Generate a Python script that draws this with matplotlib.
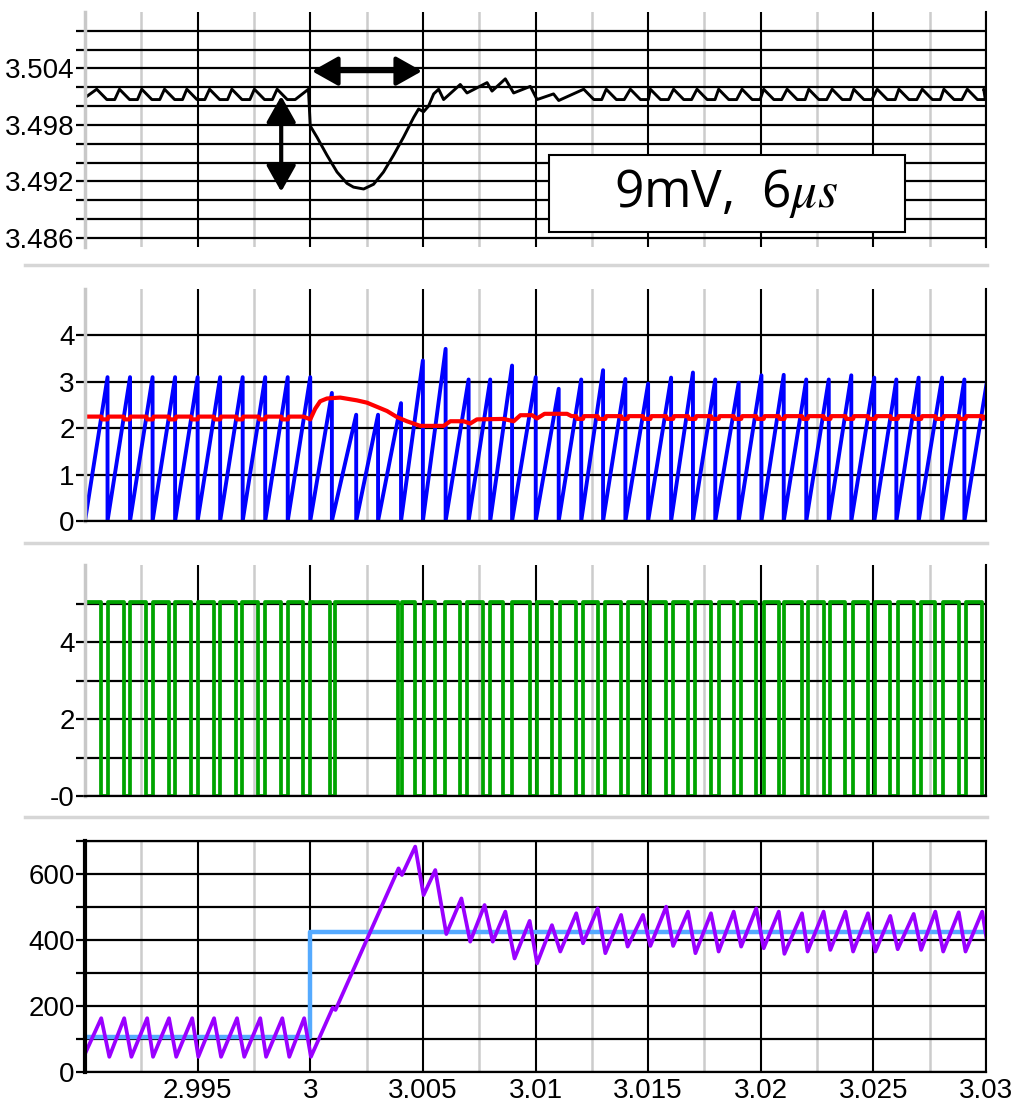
import numpy as np
import matplotlib
matplotlib.use("Agg")
import matplotlib.pyplot as plt
from matplotlib.patches import Rectangle
from matplotlib.lines import Line2D

plt.rcParams['font.family'] = ['Liberation Sans Narrow', 'Liberation Sans', 'DejaVu Sans']
plt.rcParams['mathtext.fontset'] = 'stix'

# ---- data (time axis in s) ----

# output voltage (top panel)
vout_pre_pk = [2.99052, 2.99153, 2.99252, 2.99353, 2.99452, 2.99553, 2.99652, 2.99752, 2.99853]
vout_tr_t = [2.99992, 3.00000, 3.00030, 3.00074, 3.00119, 3.00163, 3.00192, 3.00237, 3.00281,
             3.00325, 3.00370, 3.00414, 3.00459, 3.00481, 3.00503, 3.00525, 3.00548, 3.00570,
             3.00592, 3.00666, 3.00696, 3.00785, 3.00807, 3.00866, 3.00903, 3.00977, 3.01007,
             3.01080, 3.01103]
vout_tr_v = [3.5018, 3.4979, 3.4967, 3.4948, 3.4930, 3.4918, 3.4914, 3.4912, 3.4917,
             3.4930, 3.4948, 3.4967, 3.4988, 3.4997, 3.4994, 3.5000, 3.5013, 3.5018,
             3.5007, 3.5023, 3.5014, 3.5025, 3.5016, 3.5029, 3.5014, 3.5021, 3.5007,
             3.5013, 3.5006]
vout_post_pk = [3.01214, 3.01314, 3.01421, 3.01510, 3.01613, 3.01717, 3.01813, 3.01917, 3.02013,
                3.02117, 3.02213, 3.02317, 3.02413, 3.02517, 3.02613, 3.02717, 3.02813, 3.02917]
vout_hi, vout_lo = 3.5018, 3.5007

# ramp (blue) peak at each reset, and its value
ramp_t = [2.990, 2.991, 2.992, 2.993, 2.994, 2.995, 2.996, 2.997, 2.998, 2.999, 3.000,
          3.00096, 3.00204, 3.00301, 3.00403, 3.00500, 3.00601, 3.00703, 3.00799, 3.00896,
          3.01001, 3.01103, 3.01203, 3.01300, 3.01399, 3.01500, 3.01602, 3.01699, 3.01798,
          3.01902, 3.02003, 3.02102, 3.02202, 3.02302, 3.02402, 3.02504, 3.02602, 3.02701,
          3.02805, 3.02904, 3.03005]
ramp_pk = [3.10, 3.10, 3.10, 3.10, 3.10, 3.10, 3.10, 3.10, 3.10, 3.10, 3.10,
           2.76, 2.29, 2.29, 2.54, 3.46, 3.71, 3.05, 3.05, 3.35,
           3.10, 2.85, 3.05, 3.25, 3.06, 2.96, 3.09, 3.20, 3.05,
           2.98, 3.14, 3.15, 3.05, 3.05, 3.14, 3.09, 3.05, 3.09,
           3.09, 3.05, 3.03]

# control voltage (red)
ctrl_t = [2.99000, 2.99970, 3.00000, 3.00022, 3.00044, 3.00074, 3.00133, 3.00207, 3.00252,
          3.00296, 3.00341, 3.00385, 3.00429, 3.00488, 3.00592, 3.00622, 3.00681, 3.00710,
          3.00740, 3.00858, 3.00903, 3.00933, 3.00985, 3.01007, 3.01040, 3.01140, 3.01160, 3.03000]
ctrl_v = [2.25, 2.25, 2.19, 2.42, 2.58, 2.64, 2.66, 2.60, 2.55,
          2.46, 2.37, 2.24, 2.15, 2.05, 2.05, 2.15, 2.15, 2.10,
          2.19, 2.20, 2.15, 2.28, 2.28, 2.21, 2.31, 2.31, 2.26, 2.26]
ctrl_dip = 0.06

# gate signal (green): low intervals
gate_off = [2.99072, 2.99171, 2.99272, 2.99371, 2.99470, 2.99571, 2.99671, 2.99770, 2.99871, 2.99970,
            3.00089, 3.00388, 3.00466, 3.00555, 3.00666, 3.00768, 3.00857, 3.00977,
            3.01073, 3.01181, 3.01276, 3.01380, 3.01477, 3.01580, 3.01677, 3.01779, 3.01880, 3.01980,
            3.02080, 3.02183, 3.02279, 3.02376, 3.02476, 3.02575, 3.02679, 3.02775, 3.02879, 3.02983]
gate_on = [2.99100, 2.99198, 2.99301, 2.99401, 2.99500, 2.99600, 2.99699, 2.99800, 2.99901, 3.00000,
           3.00111, 3.00407, 3.00503, 3.00600, 3.00696, 3.00799, 3.00897, 3.01007,
           3.01110, 3.01211, 3.01310, 3.01409, 3.01510, 3.01611, 3.01710, 3.01813, 3.01913, 3.02013,
           3.02105, 3.02208, 3.02309, 3.02410, 3.02509, 3.02608, 3.02712, 3.02810, 3.02909, 3.03010]
gate_hi = 5.05

# inductor current (purple) and reference (light blue)
il_t = [2.99000, 2.99072, 2.99108, 2.99174, 2.99206, 2.99276, 2.99302, 2.99373, 2.99405, 2.99476,
        2.99503, 2.99573, 2.99604, 2.99675, 2.99707, 2.99778, 2.99804, 2.99876, 2.99907, 2.99973,
        3.00003, 3.00100, 3.00112, 3.00392, 3.00407, 3.00466, 3.00503, 3.00555, 3.00604, 3.00671,
        3.00710, 3.00774, 3.00810, 3.00866, 3.00907, 3.00974, 3.01007, 3.01073, 3.01110, 3.01181,
        3.01211, 3.01276, 3.01310, 3.01380, 3.01409, 3.01477, 3.01510, 3.01580, 3.01611, 3.01677,
        3.01710, 3.01779, 3.01813, 3.01880, 3.01913, 3.01980, 3.02013, 3.02080, 3.02105, 3.02183,
        3.02208, 3.02279, 3.02309, 3.02376, 3.02410, 3.02476, 3.02509, 3.02575, 3.02608, 3.02679,
        3.02712, 3.02775, 3.02810, 3.02879, 3.02909, 3.02983, 3.03008]
il_v = [55, 163, 46, 163, 46, 163, 46, 163, 46, 163,
        46, 163, 46, 163, 46, 163, 46, 163, 46, 163,
        46, 195, 188, 617, 597, 683, 536, 612, 418, 526,
        395, 506, 395, 486, 344, 458, 329, 445, 365, 481,
        390, 496, 360, 476, 380, 476, 382, 501, 382, 486,
        360, 481, 365, 486, 380, 496, 375, 486, 358, 481,
        365, 486, 370, 486, 365, 481, 365, 473, 372, 479,
        370, 486, 365, 484, 365, 486, 380]
iref_t = [2.990, 3.000, 3.000, 3.030]
iref_v = [105, 105, 425, 425]

# ---- build the traces ----
vx, vy = [2.990], [3.5009]
for tp in vout_pre_pk:
    vx += [tp, tp + 0.00045, tp + 0.0008]
    vy += [vout_hi, vout_lo, vout_lo]
vx += vout_tr_t
vy += vout_tr_v
for tp in vout_post_pk:
    vx += [tp, tp + 0.00045, tp + 0.0008]
    vy += [vout_hi, vout_lo, vout_lo]
vx += [3.0299, 3.0300]
vy += [vout_hi, 3.5012]

bx, by = [], []
for t, p in zip(ramp_t, ramp_pk):
    bx += [t, t]
    by += [p, 0.0]

pts = list(zip(ctrl_t, ctrl_v))
for s, e in zip(gate_off, gate_on):
    if s < 2.9996 or s > 3.0115:
        lvl = 2.25 if s < 3 else 2.26
        pts += [(s, lvl), (s + 0.00004, lvl - ctrl_dip), (e, lvl - ctrl_dip), (e + 0.00004, lvl)]
pts.sort()
rx = [p[0] for p in pts]
ry = [p[1] for p in pts]

gx, gy = [2.990, 2.990], [0.0, gate_hi]
for s, e in zip(gate_off, gate_on):
    gx += [s, s, e, e]
    gy += [gate_hi, 0.0, 0.0, gate_hi]

# ---- figure ----
W, H = 1018, 1105
fig = plt.figure(figsize=(W / 100, H / 100), dpi=100)


def px_axes(top, bottom):
    return fig.add_axes([85 / W, 1 - bottom / H, (986 - 85) / W, (bottom - top) / H])


major_x = [2.995, 3.0, 3.005, 3.01, 3.015, 3.02, 3.025, 3.03]
minor_x = [2.99, 2.9925, 2.9975, 3.0025, 3.0075, 3.0125, 3.0175, 3.0225, 3.0275]


def style(ax, yt, ylab, ylim, boxed=False):
    ax.set_xlim(2.99, 3.03)
    ax.set_ylim(*ylim)
    ax.set_xticks(major_x)
    ax.set_xticks(minor_x, minor=True)
    ax.set_yticks(yt)
    ax.set_yticklabels(ylab)
    ax.grid(True, which='major', axis='x', color='black', lw=1.5)
    ax.grid(True, which='minor', axis='x', color='#cccccc', lw=1.8)
    ax.grid(True, which='major', axis='y', color='black', lw=1.6)
    ax.set_axisbelow(True)
    ax.tick_params(axis='y', length=6.5, width=1.6, pad=1, labelsize=20, color='black')
    ax.tick_params(axis='x', which='both', length=0, labelbottom=False)
    for s in ax.spines.values():
        s.set_visible(False)
    ax.spines['left'].set_visible(True)
    ax.spines['right'].set_visible(True)
    ax.spines['right'].set_linewidth(1.5)
    if boxed:
        ax.spines['left'].set_color('black')
        ax.spines['left'].set_linewidth(3)
        ax.spines['top'].set_visible(True)
        ax.spines['top'].set_linewidth(1.6)
        ax.spines['bottom'].set_visible(True)
        ax.spines['bottom'].set_linewidth(1.6)
    else:
        ax.spines['left'].set_color('#c8c8c8')
        ax.spines['left'].set_linewidth(2.5)


ax1 = px_axes(12, 247)
ax2 = px_axes(289, 521)
ax3 = px_axes(565, 796)
ax4 = px_axes(841, 1072)

v_ticks = [3.486, 3.488, 3.490, 3.492, 3.494, 3.496, 3.498, 3.500, 3.502, 3.504, 3.506, 3.508]
v_labels = ['3.486', '', '', '3.492', '', '', '3.498', '', '', '3.504', '', '']
style(ax1, v_ticks, v_labels, (3.48504, 3.5100))
style(ax2, [0, 1, 2, 3, 4], ['0', '1', '2', '3', '4'], (0, 5))
ax2.spines['bottom'].set_visible(True)
ax2.spines['bottom'].set_linewidth(1.6)
style(ax3, [0, 1, 2, 3, 4, 5], ['-0', '', '2', '', '4', ''], (0, 6))
ax3.spines['bottom'].set_visible(True)
ax3.spines['bottom'].set_linewidth(1.6)
style(ax4, [0, 100, 200, 300, 400, 500, 600, 700], ['0', '', '200', '', '400', '', '600', ''], (0, 700), boxed=True)
ax4.tick_params(axis='x', labelbottom=True, labelsize=20, pad=4)
ax4.set_xticklabels(['2.995', '3', '3.005', '3.01', '3.015', '3.02', '3.025', '3.03'])

ax1.plot(vx, vy, color='black', lw=2.1)
ax2.plot(bx, by, color='#0000ff', lw=2.8)
ax2.plot(rx, ry, color='#ff0000', lw=3.0)
ax3.plot(gx, gy, color='#00a400', lw=2.7)
ax4.plot(iref_t, iref_v, color='#55aaff', lw=3.2)
ax4.plot(il_t, il_v, color='#9a00ff', lw=2.7)

# annotation arrows in the top panel
arrow = dict(arrowstyle='<|-|>,head_length=0.8,head_width=0.45', lw=3, color='black',
             shrinkA=0, shrinkB=0, mutation_scale=20)
ax1.annotate('', xy=(3.00008, 3.50372), xytext=(3.00496, 3.50372), arrowprops=arrow)
ax1.annotate('', xy=(2.99871, 3.50108), xytext=(2.99871, 3.49091), arrowprops=arrow)

fig.add_artist(Rectangle((549 / W, 1 - 232 / H), 356 / W, 77 / H, transform=fig.transFigure,
                         facecolor='white', edgecolor='black', lw=1.5, zorder=5))
fig.text(726 / W, 1 - 193 / H, r'9mV,  6$\mu s$', fontsize=37, family='Open Sans',
         ha='center', va='center', zorder=6)

# light separators between the panels
for yy in [265, 543, 817]:
    fig.add_artist(Line2D([25 / W, 987 / W], [1 - yy / H, 1 - yy / H], color='#d6d6d6', lw=2.5))

fig.savefig('out.png', dpi=100)
